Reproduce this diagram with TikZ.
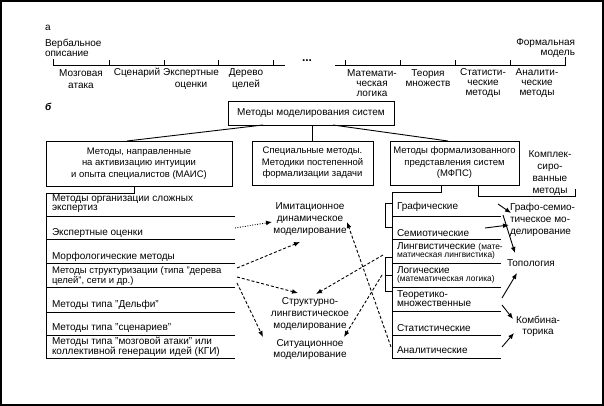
\documentclass[tikz,border=0pt]{standalone}
\usepackage{fontspec}
\setmainfont{Liberation Sans}
\usetikzlibrary{arrows.meta,calc}
\newcommand\fsN{\fontsize{10}{12}\selectfont}
\newcommand\fsB{\fontsize{9.5}{11.5}\selectfont}
\newcommand\fsT{\fontsize{10}{10}\selectfont}
\newcommand\fsR{\fontsize{10}{8.8}\selectfont}
\newcommand\fsRn{\fontsize{9.5}{8.8}\selectfont}
\newcommand\fsS{\fontsize{8.4}{8.8}\selectfont}
\begin{document}
\begin{tikzpicture}[x=1pt,y=-1pt,
  every node/.style={inner sep=0pt, outer sep=0pt},
  lbl/.style={font=\fsN, align=center},
  lblt/.style={font=\fsT, align=center},
  box/.style={draw, line width=0.9pt, font=\fsB, align=center},
  row/.style={font=\fsR, align=left, anchor=west},
  ln/.style={line width=0.9pt},
  arr/.style={line width=0.9pt, -{Latex[length=6pt,width=4.8pt]}},
  darr/.style={arr, dash pattern=on 3pt off 2pt},
  dotarr/.style={arr, dash pattern=on 0.9pt off 1.6pt},
]
\useasboundingbox (0,0) rectangle (604,406);
\draw[line width=1.6pt] (0.8,0.8) rectangle (603.2,405.2);

% ---------- part a ----------
\node[lbl, anchor=west] (la) at (45,28) {а};
\node[lblt, align=left, anchor=west] (verb) at (45,48) {Вербальное\\описание};
\node[lblt, align=right, anchor=east] (form) at (575,48) {Формальная\\модель};
\draw[ln] (53,59) -- (53,65) -- (285,65);
\foreach \x in {109,164,218,273} \draw[ln] (\x,60) -- (\x,65);
\node[font=\fontsize{12}{12}\selectfont\bfseries] (dots) at (307,61) {...};
\draw[ln] (335,65) -- (565,65) -- (565,57);
\foreach \x in {345,400,455,510} \draw[ln] (\x,60) -- (\x,65);

\node[lbl] (l1) at (81,79) {Мозговая\\атака};
\node[lbl] (l2) at (137,73) {Сценарий};
\node[lbl] (l3) at (191,79) {Экспертные\\оценки};
\node[lbl] (l4) at (246,79) {Дерево\\целей};
\node[lblt] (l5) at (372,83) {Математи-\\ческая\\логика};
\node[lblt] (l6) at (428,78) {Теория\\множеств};
\node[lblt] (l7) at (483,83) {Статисти-\\ческие\\методы};
\node[lblt] (l8) at (537,83) {Аналити-\\ческие\\методы};

% ---------- part b ----------
\node[font=\fsN\bfseries\itshape, anchor=west] (lb) at (45,107) {б};
\node[box, font=\fsN, minimum width=166, minimum height=24] (top) at (311,113) {Методы моделирования систем};
\node[box, minimum width=186, minimum height=45] (mais) at (139,163.5) {Методы, направленные\\на активизацию интуиции\\и опыта специалистов (МАИС)};
\node[box, minimum width=121, minimum height=44] (spec) at (312.5,163) {Специальные методы.\\Методики постепенной\\формализации задачи};
\node[box, minimum width=129, minimum height=44] (mfps) at (454.5,163) {Методы формализованного\\представления систем\\(МФПС)};
\node[lbl] (kompl) at (550,173) {Комплек-\\сиро-\\ванные\\методы};

\draw[ln] ($(top.south west)+(35,0)$) -- ($(mais.north west)+(81,0)$);
\draw[ln] (spec.north) -- (spec.north |- top.south);
\draw[ln] ($(top.south east)+(-61,0)$) -- ($(mfps.north west)+(58,0)$);

% left list
\draw[ln] ($(mais.south west)+(88,0)$) -- ++(0,7) -| ($(mais.south west)+(0,172)$);
\foreach \y in {216,239,263,287,312,335,358} \draw[ln] (46,\y) -- (235,\y);
\node[row] (r1) at (52,203.5) {Методы организации сложных\\экспертиз};
\node[row] (r2) at (52,233) {Экспертные оценки};
\node[row] (r3) at (52,257) {Морфологические методы};
\node[row, font=\fsRn] (r4) at (52,276) {Методы структуризации (типа "дерева\\целей", сети и др.)};
\node[row] (r5) at (52,305) {Методы типа "Дельфи"};
\node[row] (r6) at (52,328) {Методы типа "сценариев"};
\node[row] (r7) at (52,347) {Методы типа "мозговой атаки" или\\коллективной генерации идей (КГИ)};

% right list
\draw[ln] ($(mfps.south west)+(51,0)$) -- ++(0,7) -| ($(mfps.south west)+(2,173)$);
\foreach \y in {216,239,263,287,311,335,358} \draw[ln] (392,\y) -- (501,\y);
\draw[ln] (392,203) -- (385,203) -- (385,227) -- (392,227);
\draw[ln] (392,257) -- (385,257) -- (385,291) -- (392,291);
\draw[ln] (385,275) -- (392,275);
\draw[ln] ($(mfps.south west)+(88,0)$) -- ++(0,11) -- ++(97,0) -- ++(0,-7);

\node[row] (g1) at (397,207) {Графические};
\node[row] (g2) at (397,233) {Семиотические};
\node[row] (g3) at (397,251) {Лингвистические {\fsS(мате-}\\{\fsS матическая лингвистика)}};
\node[row] (g4) at (397,275) {Логические\\{\fsS(математическая логика)}};
\node[row] (g5) at (397,299) {Теоретико-\\множественные};
\node[row] (g6) at (397,328) {Статистические};
\node[row] (g7) at (397,350) {Аналитические};

% middle targets
\node[lbl] (imit) at (310,219.5) {Имитационное\\динамическое\\моделирование};
\node[lbl] (struc) at (310,314) {Структурно-\\лингвистическое\\моделирование};
\node[font=\fontsize{10}{11}\selectfont, align=center] (sit) at (310,349.5) {Ситуационное\\моделирование};

% right targets
\node[lbl, align=left, anchor=west] (grafo) at (510,219.5) {Графо-семио-\\тическое мо-\\делирование};
\node[lbl] (topo) at (531,263) {Топология};
\node[font=\fontsize{10}{11}\selectfont, align=center] (komb) at (538,326.5) {Комбина-\\торика};

% connectors
\draw[dotarr] ($(r2.west)+(183,-5)$) -- ($(imit)+(-38,2.5)$);
\draw[darr] ($(r4.west)+(185,-8)$) -- ($(imit)+(-10,22.5)$);
\draw[darr] ($(r4.west)+(185,1)$) -- ($(struc)+(-12,-21)$);
\draw[darr] ($(r4.west)+(185,7)$) -- ($(sit)+(-47,-12.5)$);
\draw[darr] ($(g7.west)+(-6,-3)$) -- ($(imit)+(37,2.5)$);
\draw[darr] ($(g3.west)+(-14,4)$) -- ($(struc)+(6,-20)$);
\draw[darr] ($(g4.west)+(-15,0)$) -- ($(sit)+(34,-12.5)$);

\draw[arr] ($(g1.west)+(101,-3)$) -- ($(grafo.west)+(1,-6.5)$);
\draw[arr] ($(g2.west)+(88,-5)$) -- ($(grafo.west)+(-1,5.5)$);
\draw[arr] ($(g1.west)+(106,8)$) -- ($(topo)+(-16,-10)$);
\draw[arr] ($(g5.west)+(105,-1)$) -- ($(topo)+(-14,10)$);
\draw[arr] ($(g5.west)+(105,6)$) -- ($(komb)+(-25,-7.5)$);
\draw[arr] ($(g7.west)+(105,-3)$) -- ($(komb)+(-24,6.5)$);
\end{tikzpicture}
\end{document}
